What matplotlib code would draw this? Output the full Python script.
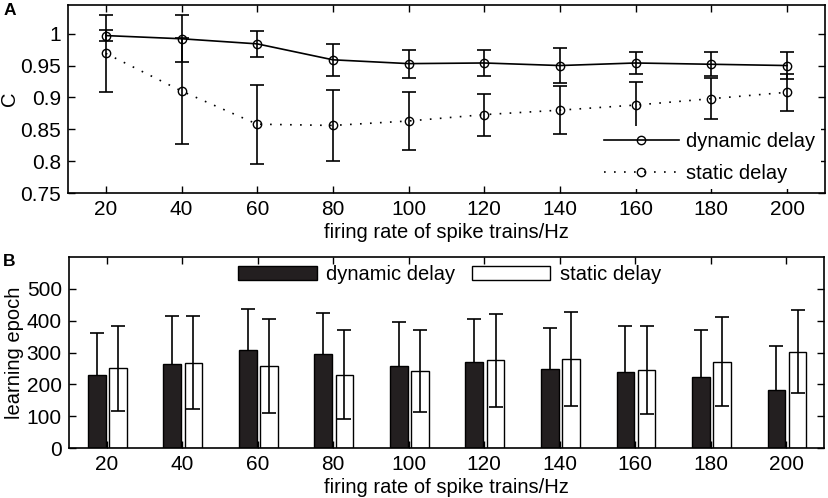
import numpy as np
import matplotlib
matplotlib.use("Agg")
import matplotlib.pyplot as plt
from matplotlib.lines import Line2D

plt.rcParams['font.family'] = ['Liberation Sans', 'DejaVu Sans']
plt.rcParams['font.size'] = 14.5

rates = [20, 40, 60, 80, 100, 120, 140, 160, 180, 200]

# panel A: C values
c_dyn = [0.997, 0.992, 0.984, 0.959, 0.953, 0.954, 0.950, 0.954, 0.952, 0.950]
c_dyn_err = [0.009, 0.037, 0.020, 0.025, 0.022, 0.020, 0.027, 0.017, 0.019, 0.021]
c_sta = [0.969, 0.910, 0.858, 0.856, 0.863, 0.873, 0.880, 0.888, 0.898, 0.908]
c_sta_err = [0.061, 0.083, 0.062, 0.056, 0.046, 0.033, 0.038, 0.036, 0.032, 0.029]

# panel B: learning epochs
ep_dyn = [230, 265, 308, 295, 258, 270, 249, 240, 224, 183]
ep_dyn_err = [130, 150, 128, 128, 139, 136, 128, 142, 145, 138]
ep_sta = [250, 268, 259, 231, 242, 275, 279, 246, 271, 303]
ep_sta_err = [132, 146, 147, 139, 128, 145, 148, 138, 139, 130]

fig = plt.figure(figsize=(8.29, 4.98), dpi=100)
axA = fig.add_axes([0.082, 0.6124, 0.913, 0.3776])
axB = fig.add_axes([0.083, 0.0998, 0.911, 0.3847])

dotted = (0, (1, 5))

# ---- A
axA.errorbar(rates, c_dyn, yerr=c_dyn_err, color='k', lw=1.2, elinewidth=1.2,
             capsize=5, capthick=1.2, marker='o', ms=6, mfc='none', mec='k')
axA.errorbar(rates, c_sta, yerr=c_sta_err, color='k', lw=1.2, elinewidth=1.2,
             capsize=5, capthick=1.2, marker='o', ms=6, mfc='none', mec='k',
             ls=dotted)
axA.set_xlim(10, 210)
axA.set_ylim(0.75, 1.045)
axA.set_xticks(rates)
axA.set_yticks([0.75, 0.8, 0.85, 0.9, 0.95, 1])
axA.set_yticklabels(['0.75', '0.8', '0.85', '0.9', '0.95', '1'])
axA.set_xlabel('firing rate of spike trains/Hz', labelpad=3)
axA.set_ylabel('C', labelpad=1)
handles = [Line2D([], [], color='k', lw=1.2, marker='o', ms=6, mfc='none', mec='k'),
           Line2D([], [], color='k', lw=1.2, ls=dotted, marker='o', ms=6,
                  mfc='none', mec='k')]
legA = axA.legend(handles, ['dynamic delay', 'static delay'], loc='lower right',
                  frameon=True, fancybox=False, edgecolor='none',
                  facecolor='white', framealpha=1, handlelength=3.7,
                  handletextpad=0.35, borderaxespad=0.2, labelspacing=0.65,
                  borderpad=0.3)
legA.get_frame().set_linewidth(0)

# ---- B
x = np.array(rates, dtype=float)
w = 4.7
axB.bar(x - 2.6, ep_dyn, width=w, color='#231f20', edgecolor='k', lw=1,
        label='dynamic delay', zorder=3)
axB.bar(x + 3.0, ep_sta, width=w, color='white', edgecolor='k', lw=1,
        label='static delay', zorder=3)
axB.errorbar(x - 2.6, ep_dyn, yerr=ep_dyn_err, fmt='none', ecolor='k',
             elinewidth=1.2, capsize=5, capthick=1.2, zorder=2)
axB.errorbar(x + 3.0, ep_sta, yerr=ep_sta_err, fmt='none', ecolor='k',
             elinewidth=1.2, capsize=5, capthick=1.2, zorder=4)
axB.set_xlim(10, 210)
axB.set_ylim(0, 600)
axB.set_xticks(rates)
axB.set_yticks([0, 100, 200, 300, 400, 500])
axB.set_xlabel('firing rate of spike trains/Hz', labelpad=3)
axB.set_ylabel('learning epoch', labelpad=2)
axB.legend(loc='upper center', ncol=2, frameon=False, handlelength=3.9,
           handleheight=0.75, columnspacing=0.85, handletextpad=0.45,
           bbox_to_anchor=(0.504, 1.025), borderaxespad=0.25)

for ax in (axA, axB):
    ax.tick_params(direction='in', top=True, right=True, length=5,
                   width=1, pad=5, labelsize=15)
    for s in ax.spines.values():
        s.set_linewidth(1.2)
        s.set_zorder(5)

fig.text(0.004, 0.978, 'A', fontsize=12.5, fontweight='bold', va='center')
fig.text(0.004, 0.474, 'B', fontsize=12.5, fontweight='bold', va='center')

fig.savefig('out.png', dpi=100)
